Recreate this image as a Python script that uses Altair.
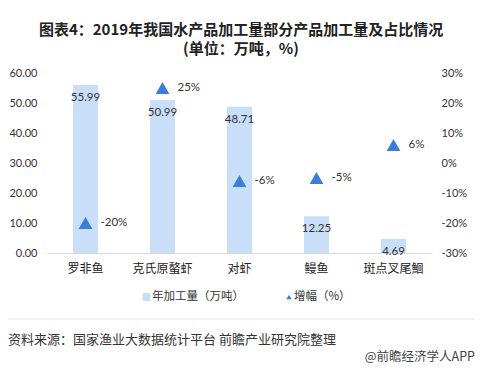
import altair as alt
import pandas as pd

categories = ["罗非鱼", "克氏原螯虾", "对虾", "鳗鱼", "斑点叉尾鮰"]
output_wt = [55.99, 50.99, 48.71, 12.25, 4.69]
growth_pct = [-20, 25, -6, -5, 6]

title_lines = ["图表4：2019年我国水产品加工量部分产品加工量及占比情况", "(单位：万吨，%)"]
legend_labels = ["年加工量（万吨）", "增幅（%）"]
source_text = "资料来源：国家渔业大数据统计平台 前瞻产业研究院整理"
brand_text = "@前瞻经济学人APP"

df = pd.DataFrame({"cat": categories, "val": output_wt, "g": growth_pct})

CJK = "Noto Sans CJK SC"
NUM = "Lato"
BAR = "#C9DEF8"
TRI = "#3B7DD8"

x = alt.X("cat:N", sort=categories, title=None,
          axis=alt.Axis(labelAngle=0, labelFont=CJK, labelFontSize=12, labelColor="#222",
                        domainColor="#D9D9D9", ticks=False, labelPadding=10))

bars = alt.Chart(df).mark_bar(color=BAR, size=25).encode(
    x=x,
    y=alt.Y("val:Q", scale=alt.Scale(domain=[0, 60]), title=None,
            axis=alt.Axis(orient="left", format=".2f", values=[0, 10, 20, 30, 40, 50, 60],
                          grid=False, domain=False, ticks=False, labelFont=NUM,
                          labelFontSize=11, labelColor="#333", labelPadding=10)),
)

bar_labels = alt.Chart(df).mark_text(font=NUM, fontSize=11.5, color="#333", baseline="middle", dy=13).encode(
    x=alt.X("cat:N", sort=categories),
    y=alt.Y("val:Q", scale=alt.Scale(domain=[0, 60]), axis=None),
    text=alt.Text("val:Q", format=".2f"),
)

tris = alt.Chart(df).mark_point(shape="triangle-up", filled=True, color=TRI, opacity=1, size=190).encode(
    x=alt.X("cat:N", sort=categories),
    y=alt.Y("g:Q", scale=alt.Scale(domain=[-30, 30]), title=None,
            axis=alt.Axis(orient="right", values=[-30, -20, -10, 0, 10, 20, 30],
                          labelExpr="datum.value + '%'", grid=False, domain=False, ticks=False,
                          labelFont=NUM, labelFontSize=11, labelColor="#333", labelPadding=9)),
)

tri_labels = alt.Chart(df).transform_calculate(lab="datum.g + '%'").mark_text(
    font=NUM, fontSize=11.5, color="#333", align="left", baseline="middle", dx=15).encode(
    x=alt.X("cat:N", sort=categories),
    y=alt.Y("g:Q", scale=alt.Scale(domain=[-30, 30]), axis=None),
    text="lab:N",
)

one = pd.DataFrame({"k": [0]})

title_df = pd.DataFrame({"t": ["\n".join(title_lines)]})
title = alt.Chart(title_df).mark_text(
    font=CJK, fontSize=15, fontWeight="bold", color="#222", align="center", baseline="middle",
    lineBreak="\n", lineHeight=19).encode(
    x=alt.value(194), y=alt.value(-43.5), text="t:N")

leg_sq = alt.Chart(one).mark_square(color=BAR, size=60, opacity=1).encode(
    x=alt.value(99.5), y=alt.value(224))
leg_sq_t = alt.Chart(pd.DataFrame({"t": [legend_labels[0]]})).mark_text(
    font=CJK, fontSize=11.5, color="#333", align="left", baseline="middle").encode(
    x=alt.value(105), y=alt.value(224), text="t:N")
leg_tri = alt.Chart(one).mark_point(shape="triangle-up", filled=True, color=TRI, opacity=1, size=30).encode(
    x=alt.value(242), y=alt.value(224))
leg_tri_t = alt.Chart(pd.DataFrame({"t": [legend_labels[1]]})).mark_text(
    font=CJK, fontSize=11.5, color="#333", align="left", baseline="middle").encode(
    x=alt.value(247), y=alt.value(224), text="t:N")

sep = alt.Chart(one).mark_rule(color="#E6E6E6", strokeWidth=1).encode(
    x=alt.value(-39), x2=alt.value(430), y=alt.value(246))

src = alt.Chart(pd.DataFrame({"t": [source_text]})).mark_text(
    font=CJK, fontSize=13, color="#333", align="left", baseline="middle").encode(
    x=alt.value(-39), y=alt.value(267), text="t:N")
brand = alt.Chart(pd.DataFrame({"t": [brand_text]})).mark_text(
    font=CJK, fontSize=12.5, color="#444", align="right", baseline="middle").encode(
    x=alt.value(428), y=alt.value(284), text="t:N")

chart = alt.layer(
    bars, tris, bar_labels, tri_labels,
    title, leg_sq, leg_sq_t, leg_tri, leg_tri_t, sep, src, brand,
).resolve_scale(y="independent").properties(
    width=385, height=180,
    autosize=alt.AutoSizeParams(type="none"),
    padding={"left": 39, "top": 65, "right": 43, "bottom": 111},
    background="white",
).configure_view(stroke=None)

chart.save("out.html", embed_options={"renderer": "svg", "actions": False})
